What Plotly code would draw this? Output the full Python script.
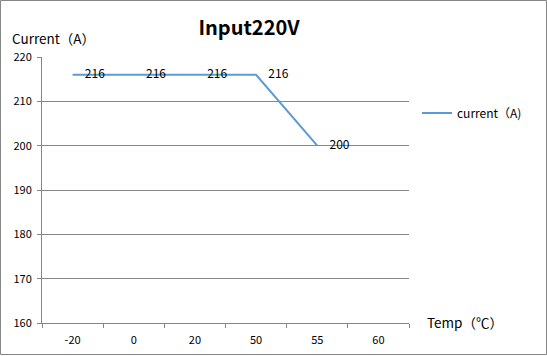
import plotly.graph_objects as go

categories = ["-20", "0", "20", "50", "55", "60"]
current_a = [216, 216, 216, 216, 200, None]
data_labels = ["216", "216", "216", "216", "200", ""]
y_ticks = [160, 170, 180, 190, 200, 210, 220]

W, H = 547, 356
L, R, T, B = 42, 138, 57, 33
pw, ph = W - L - R, H - T - B

FONT = "Noto Sans CJK SC, DejaVu Sans, sans-serif"

fig = go.Figure()
fig.add_trace(go.Scatter(
    x=categories, y=current_a, mode="lines+markers+text",
    text=data_labels, textposition="middle right",
    textfont=dict(size=12, color="#000000", family=FONT),
    line=dict(color="#5B9BD5", width=2),
    marker=dict(size=18, color="rgba(0,0,0,0)"),
    name="current（A)", cliponaxis=False, hoverinfo="skip",
))

def px_x(p):
    return (p - L) / pw

def px_y(p):
    return (H - B - p) / ph

fig.update_layout(
    width=W, height=H,
    margin=dict(l=L, r=R, t=T, b=B, autoexpand=False),
    paper_bgcolor="white", plot_bgcolor="white",
    font=dict(family=FONT, size=11, color="#000000"),
    title=dict(text="<b>Input220V</b>", x=px_x(249), xref="paper", xanchor="center",
               y=1 - 28 / H, yanchor="middle", font=dict(size=20, family=FONT)),
    showlegend=True,
    legend=dict(x=px_x(417), y=px_y(113), xanchor="left", yanchor="middle",
                bgcolor="rgba(0,0,0,0)", font=dict(size=12), itemwidth=30),
    xaxis=dict(type="category", categoryorder="array", categoryarray=categories,
               range=[-0.5, len(categories) - 0.5], automargin=False,
               showgrid=False, showline=True, linecolor="#868686", linewidth=1,
               ticks="outside", tickson="boundaries", ticklen=4, tickcolor="#868686",
               tickfont=dict(size=11), zeroline=False, ticklabelstandoff=7),
    yaxis=dict(range=[160, 220], tickvals=y_ticks, showgrid=True, gridcolor="#868686",
               gridwidth=1, showline=True, linecolor="#868686", linewidth=1,
               ticks="outside", ticklen=4, tickcolor="#868686", automargin=False,
               tickfont=dict(size=11), zeroline=False, ticklabelstandoff=3),
    annotations=[
        dict(text="Current（A）", x=px_x(10), y=px_y(38), xref="paper", yref="paper",
             xanchor="left", yanchor="middle", showarrow=False, font=dict(size=13.5)),
        dict(text="Temp（℃）", x=px_x(425), y=px_y(322), xref="paper", yref="paper",
             xanchor="left", yanchor="middle", showarrow=False, font=dict(size=13.5)),
    ],
    shapes=[
        dict(type="rect", xref="paper", yref="paper",
             x0=px_x(0.5), x1=px_x(546.5), y0=px_y(354.5), y1=px_y(0.5),
             line=dict(color="#868686", width=1), fillcolor="rgba(0,0,0,0)", layer="below"),
    ],
)

fig.write_html("out.html", post_script="document.body.style.margin='0';",
               config={"displayModeBar": False})
